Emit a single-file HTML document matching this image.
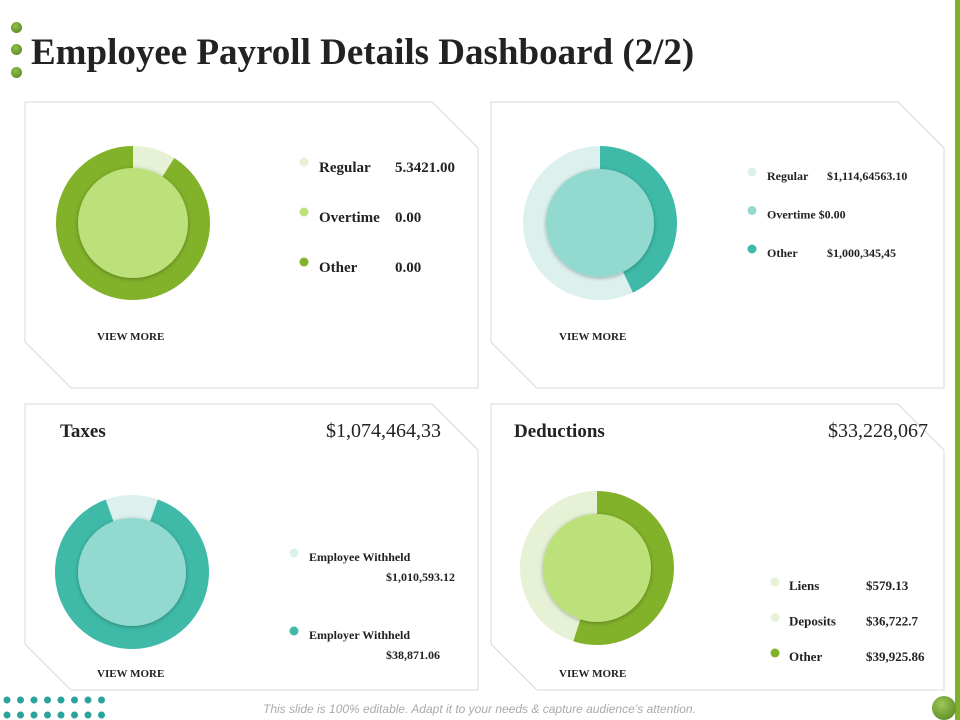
<!DOCTYPE html>
<html><head><meta charset="utf-8"><style>
body{margin:0;width:960px;height:720px;background:#fff;position:relative;overflow:hidden;font-family:"Liberation Serif",serif;color:#222}
.t{position:absolute;white-space:nowrap}
.b{font-weight:bold}
.dot{position:absolute;border-radius:50%}
</style></head><body>
<div class="dot" style="left:11px;top:22px;width:11px;height:11px;background:radial-gradient(circle at 40% 35%,#8fc04a,#4f7f18)"></div>
<div class="dot" style="left:11px;top:44px;width:11px;height:11px;background:radial-gradient(circle at 40% 35%,#8fc04a,#4f7f18)"></div>
<div class="dot" style="left:11px;top:67px;width:11px;height:11px;background:radial-gradient(circle at 40% 35%,#8fc04a,#4f7f18)"></div>
<div class="t b" style="left:31px;top:31px;font-size:37px;color:#222">Employee Payroll Details Dashboard (2/2)</div>
<div style="position:absolute;left:955px;top:0;width:5px;height:720px;background:#7fb02c"></div>
<svg id="s" width="960" height="720" style="position:absolute;left:0;top:0">
<defs><filter id="sh" x="-20%" y="-20%" width="140%" height="140%"><feDropShadow dx="0" dy="1" stdDeviation="2" flood-color="#000" flood-opacity="0.3"/></filter></defs>
</svg>
<div class="t b" style="left:60px;top:421px;font-size:19px">Taxes</div>
<div class="t" style="left:326px;top:420px;font-size:20px">$1,074,464,33</div>
<div class="t b" style="left:514px;top:421px;font-size:19px">Deductions</div>
<div class="t" style="left:828px;top:420px;font-size:20px">$33,228,067</div>
<div class="t" style="left:263px;top:702px;font-size:12px;font-style:italic;color:#aaa;font-family:'Liberation Sans',sans-serif">This slide is 100% editable. Adapt it to your needs &amp; capture audience’s attention.</div>
<div class="dot" style="left:932px;top:696px;width:24px;height:24px;background:radial-gradient(circle at 40% 35%,#9cc75a,#4f7f18)"></div>
<script>
const svg=document.getElementById('s');
const NS='http://www.w3.org/2000/svg';
// chart data
const tlLabels=['Regular','Overtime','Other'];
const tlShares=[9,0,91];
const tlValues=['5.3421.00','0.00','0.00'];
const trLabels=['Other','Regular','Overtime'];
const trShares=[43,57,0];
const trValues=['$1,000,345,45','$1,114,64563.10','$0.00'];
const blLabels=['Employee Withheld','Employer Withheld'];
const blShares=[11,89];
const blValues=['$1,010,593.12','$38,871.06'];
const brLabels=['Other','Deposits','Liens'];
const brShares=[55,45,0];
const brValues=['$39,925.86','$36,722.7','$579.13'];

function mk(tag,attrs,name){const e=document.createElementNS(NS,tag);for(const k in attrs)e.setAttribute(k,attrs[k]);


svg.appendChild(e);return e;}
function panel(x,y,w,h,name){
  const c=46;
  mk('polygon',{points:`${x},${y} ${x+w-c},${y} ${x+w},${y+c} ${x+w},${y+h} ${x+c},${y+h} ${x},${y+h-c}`,fill:'#fff',stroke:'#d8d8d8','stroke-width':1},name);
}
function angPt(cx,cy,r,a){const t=(a-90)*Math.PI/180;return [cx+r*Math.cos(t),cy+r*Math.sin(t)];}
function donut(cx,cy,shares,colors,start,inner,innerColor,name){
  const R=77,tot=shares.reduce((a,b)=>a+b,0);let a=start;
  shares.forEach((v,i)=>{if(v<=0)return;const sweep=v/tot*360;
    const [x1,y1]=angPt(cx,cy,R,a),[x2,y2]=angPt(cx,cy,R,a+sweep-0.001);
    mk('path',{d:`M${cx},${cy} L${x1},${y1} A${R},${R} 0 ${sweep>180?1:0} 1 ${x2},${y2} Z`,fill:colors[i]},name+'-slice-'+i);
    a+=sweep;});
  mk('circle',{cx:cx,cy:cy,r:inner,fill:innerColor,filter:'url(#sh)'},name+'-center');
}
function txt(x,y,s,size,name,bold){const e=mk('text',{x:x,y:y,'font-size':size,'font-family':'Liberation Serif, serif','font-weight':bold?'bold':'normal',fill:'#222'},name);e.textContent=s;return e;}
function legendDot(x,y,c,name){mk('circle',{cx:x,cy:y,r:4.5,fill:c},name);}

panel(25,102,453,286,'payroll-panel');
panel(491,102,453,286,'payroll-amount-panel');
panel(25,404,453,286,'taxes-panel');
panel(491,404,453,286,'deductions-panel');

// TL
donut(133,223,tlShares,['#e6f1d6','#bce07a','#82b12a'],0,55,'#bce07a','payroll-donut');
const tlCol=['#e6f1d6','#bce07a','#82b12a'];
tlLabels.forEach((l,i)=>{const y=167+i*50;legendDot(304,y-5,tlCol[i],'legend-dot-'+l.toLowerCase());
 txt(319,y+5,l,15,'legend-label-'+l.toLowerCase(),true);txt(395,y+5,tlValues[i],15,'legend-value-'+l.toLowerCase(),true);});
txt(97,340,'VIEW MORE',11,'view-more-link',true);

// TR
donut(600,223,trShares,['#3fbaa8','#dcf1ee','#92d9cf'],0,54,'#92d9cf','payroll-amount-donut');
const trRows=[['Regular','#dcf1ee','$1,114,64563.10'],['Overtime $0.00','#92d9cf',''],['Other','#3fbaa8','$1,000,345,45']];
trRows.forEach((r,i)=>{const y=176+i*38.5;legendDot(752,y-4,r[1],'legend-dot-'+i);
 txt(767,y+4,r[0],12,'legend-label-'+i,true);if(r[2])txt(827,y+4,r[2],12,'legend-value-'+i,true);});
txt(559,340,'VIEW MORE',11,'view-more-link',true);

// BL
donut(132,572,blShares,['#dcf1ee','#3fbaa8'],-20,54,'#92d9cf','taxes-donut');
const blCol=['#dcf1ee','#3fbaa8'];
blLabels.forEach((l,i)=>{const y=557+i*78;legendDot(294,y-4,blCol[i],'legend-dot-'+i);
 txt(309,y+4,l,12,'legend-label-'+i,true);txt(386,y+24,blValues[i],12,'legend-value-'+i,true);});
txt(97,677,'VIEW MORE',11,'view-more-link',true);

// BR
donut(597,568,brShares,['#82b12a','#e6f1d6','#e6f1d6'],0,54,'#bce07a','deductions-donut');
const brRows=[[2,'#e6f1d6'],[1,'#e6f1d6'],[0,'#82b12a']];
brRows.forEach((r,i)=>{const y=586+i*35.5;legendDot(775,y-4,r[1],'legend-dot-'+i);
 txt(789,y+4,brLabels[r[0]],13,'legend-label-'+i,true);txt(866,y+4,brValues[r[0]],13,'legend-value-'+i,true);});
txt(559,677,'VIEW MORE',11,'view-more-link',true);

// decorative dots bottom-left
for(let r=0;r<2;r++)for(let c=0;c<8;c++){
 mk('circle',{cx:7+c*13.5,cy:700+r*15,r:3.5,fill:'#2aa39a'},'decor-dot');
}
</script>
</body></html>
